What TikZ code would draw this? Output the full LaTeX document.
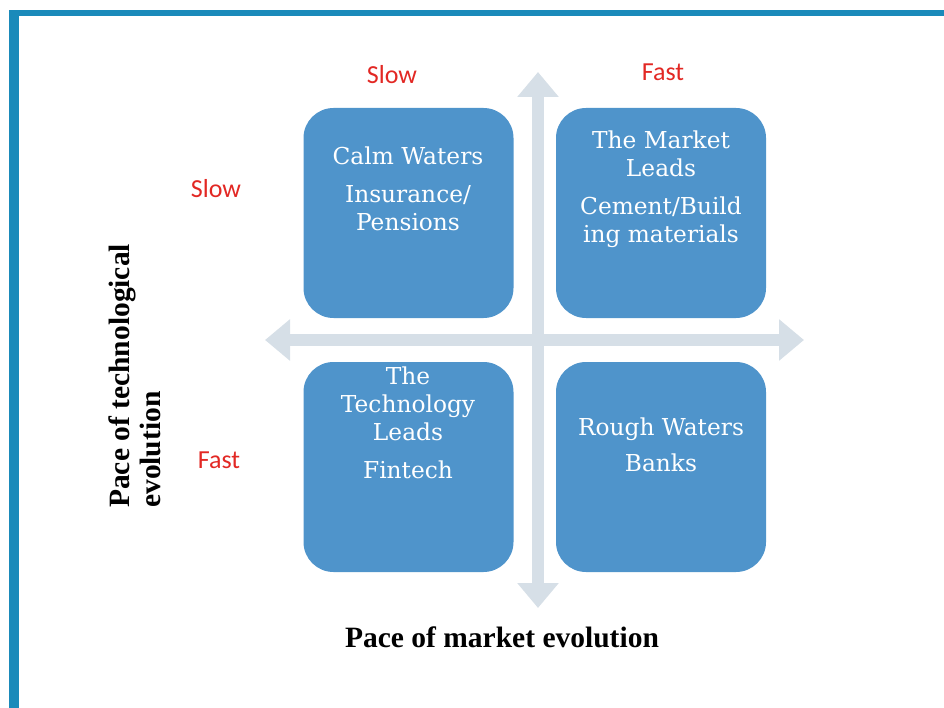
\documentclass[tikz,border=0pt]{standalone}
\usepackage{fontspec}
\setmainfont{DejaVu Serif}
\newfontfamily\labelfont{Carlito}
\newfontfamily\captionfont{Liberation Serif}
\usetikzlibrary{arrows.meta}
\definecolor{frameblue}{RGB}{26,138,186}
\definecolor{boxblue}{RGB}{79,148,203}
\definecolor{axisgrey}{RGB}{214,223,231}
\definecolor{labelred}{RGB}{226,40,36}
\tikzset{
  quad/.style={fill=boxblue, rounded corners=30pt, minimum width=210pt, minimum height=210pt, inner sep=0pt},
  quadtext/.style={text=white, align=center, font=\fontsize{23.3}{28}\selectfont},
  pace/.style={text=labelred, font=\labelfont\fontsize{26}{28}\selectfont},
  caption/.style={font=\captionfont\bfseries\fontsize{29.5}{31}\selectfont, inner sep=0pt},
  axis/.style={draw=axisgrey, line width=12pt,
    {Triangle[length=25pt 0 0,width=40pt 0 0]}-{Triangle[length=25pt 0 0,width=40pt 0 0]}}
}

\begin{document}
\begin{tikzpicture}[x=1pt, y=-1pt]
    \useasboundingbox (0,0) rectangle (944,708);
    % frame
    \fill[frameblue] (9,10) rectangle (944,16);
    \fill[frameblue] (9,10) rectangle (19,708);
    % axes
    \coordinate (west) at (265,340);
    \coordinate (east) at (804,340);
    \coordinate (north) at (538,72);
    \coordinate (south) at (538,608);
    \draw[axis] (west) -- (east);
    \draw[axis] (south) -- (north);
    % quadrants
    \node[quad] (calm) at (408.5,213) {};
    \node[quad] (market) at (661,213) {};
    \node[quad] (tech) at (408.5,467) {};
    \node[quad] (rough) at (661,467) {};
    \node[quadtext] (calmtext) at (408,189) {Calm Waters\\[10pt]Insurance/\\Pensions};
    \node[quadtext] (markettext) at (661,189.5) {The Market\\Leads\\[10pt]Cement/Build\\ing materials};
    \node[quadtext] (techtext) at (408,423) {The\\Technology\\Leads\\[10pt]Fintech};
    \node[quadtext] (roughtext) at (661,445) {Rough Waters\\[8pt]Banks};
    % pace labels
    \node[pace] (slowtop) at (392,75) {Slow};
    \node[pace] (fasttop) at (663,72) {Fast};
    \node[pace] (slowleft) at (216,189) {Slow};
    \node[pace] (fastleft) at (219,460) {Fast};
    % axis captions
    \node[caption] (marketcap) at (502,637) {Pace of market evolution};
    \node[caption, rotate=90, align=left, anchor=north west] (techcap) at (109,508) {Pace of technological\\evolution};
\end{tikzpicture}
\end{document}
